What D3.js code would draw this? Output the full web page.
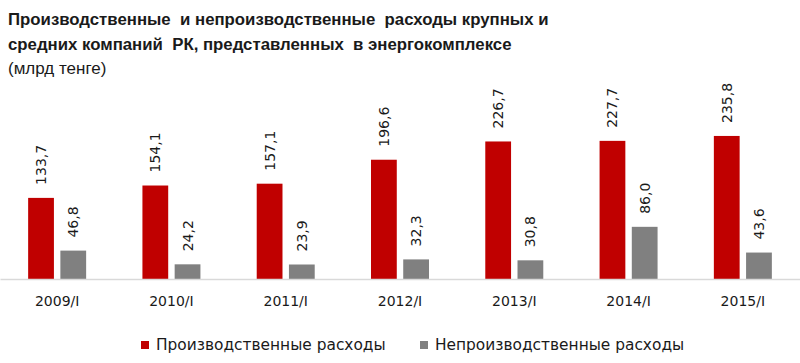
<!DOCTYPE html>
<html>
<head>
<meta charset="utf-8">
<script src="https://cdn.jsdelivr.net/npm/d3@7"></script>
<style>
  body { margin: 0; background: #fff; }
  svg { display: block; }
</style>
</head>
<body>
<div id="chart"></div>
<script>
// Data
const categories = ["2009/I", "2010/I", "2011/I", "2012/I", "2013/I", "2014/I", "2015/I"];
const seriesNames = ["Производственные расходы", "Непроизводственные расходы"];
const production = [133.7, 154.1, 157.1, 196.6, 226.7, 227.7, 235.8];
const nonProduction = [46.8, 24.2, 23.9, 32.3, 30.8, 86.0, 43.6];
const colors = ["#c00000", "#808080"];
const titleLines = [
  "Производственные  и непроизводственные  расходы крупных и",
  "средних компаний  РК, представленных  в энергокомплексе"
];
const unitLine = "(млрд тенге)";

const width = 800;
const height = 363;
const baseY = 279;

const svg = d3.select("#chart")
    .append("svg")
    .attr("width", width)
    .attr("height", height);

// Title
svg.selectAll(".title")
    .data(titleLines)
    .join("text")
    .attr("x", 8)
    .attr("y", (d, i) => 25 + i * 25)
    .attr("font-family", "Liberation Sans, Arial, sans-serif")
    .attr("font-weight", "bold")
    .attr("font-size", 16.8)
    .attr("fill", "#1a1a1a")
    .style("white-space", "pre")
    .text(d => d);

svg.append("text")
    .attr("x", 8)
    .attr("y", 74)
    .attr("font-family", "Liberation Sans, Arial, sans-serif")
    .attr("font-size", 17)
    .attr("fill", "#1a1a1a")
    .text(unitLine);

// Scales
const x0 = d3.scaleBand()
    .domain(categories)
    .range([0, width]);

const bw = x0.bandwidth();
const x1 = d3.scaleBand()
    .domain(seriesNames)
    .range([bw / 2 - 29, bw / 2 + 29])
    .paddingInner(0.2);

const y = d3.scaleLinear()
    .domain([0, 300])
    .range([baseY, 97]);

const rows = categories.map((c, i) => ({
    cat: c,
    vals: [
        { s: seriesNames[0], v: production[i], c: colors[0] },
        { s: seriesNames[1], v: nonProduction[i], c: colors[1] }
    ]
}));

const groups = svg.selectAll(".grp")
    .data(rows)
    .join("g")
    .attr("transform", d => `translate(${x0(d.cat)},0)`);

groups.selectAll("rect")
    .data(d => d.vals)
    .join("rect")
    .attr("x", d => x1(d.s))
    .attr("width", x1.bandwidth())
    .attr("y", d => y(d.v))
    .attr("height", d => y(0) - y(d.v))
    .attr("fill", d => d.c);

// Value labels (rotated)
groups.selectAll(".val")
    .data(d => d.vals)
    .join("text")
    .attr("class", "val")
    .attr("transform", d => {
        const cx = x1(d.s) + x1.bandwidth() / 2 + 5;
        const cy = y(d.v) - 13;
        return `translate(${cx},${cy}) rotate(-90)`;
    })
    .attr("font-family", "DejaVu Sans, Verdana, sans-serif")
    .attr("font-size", 14)
    .attr("fill", "#1a1a1a")
    .text(d => d.v.toFixed(1).replace(".", ","));

// Axis
const axis = svg.append("g")
    .attr("transform", `translate(0,${baseY})`)
    .call(d3.axisBottom(x0).tickSize(0).tickPadding(17));

axis.select(".domain").attr("stroke", "#d9d9d9").attr("stroke-width", 1.5);
axis.selectAll(".tick text")
    .attr("font-family", "DejaVu Sans, Verdana, sans-serif")
    .attr("font-size", 14)
    .attr("fill", "#1a1a1a");

// Legend
const legendX = [141, 420];
const legend = svg.selectAll(".leg")
    .data(seriesNames)
    .join("g")
    .attr("transform", (d, i) => `translate(${legendX[i]},${345})`);

legend.append("rect")
    .attr("x", 0)
    .attr("y", -4)
    .attr("width", 8)
    .attr("height", 8)
    .attr("fill", (d, i) => colors[i]);

legend.append("text")
    .attr("x", 15)
    .attr("y", 5)
    .attr("font-family", "DejaVu Sans, Verdana, sans-serif")
    .attr("font-size", 15.4)
    .attr("fill", "#1a1a1a")
    .text(d => d);
</script>
</body>
</html>
